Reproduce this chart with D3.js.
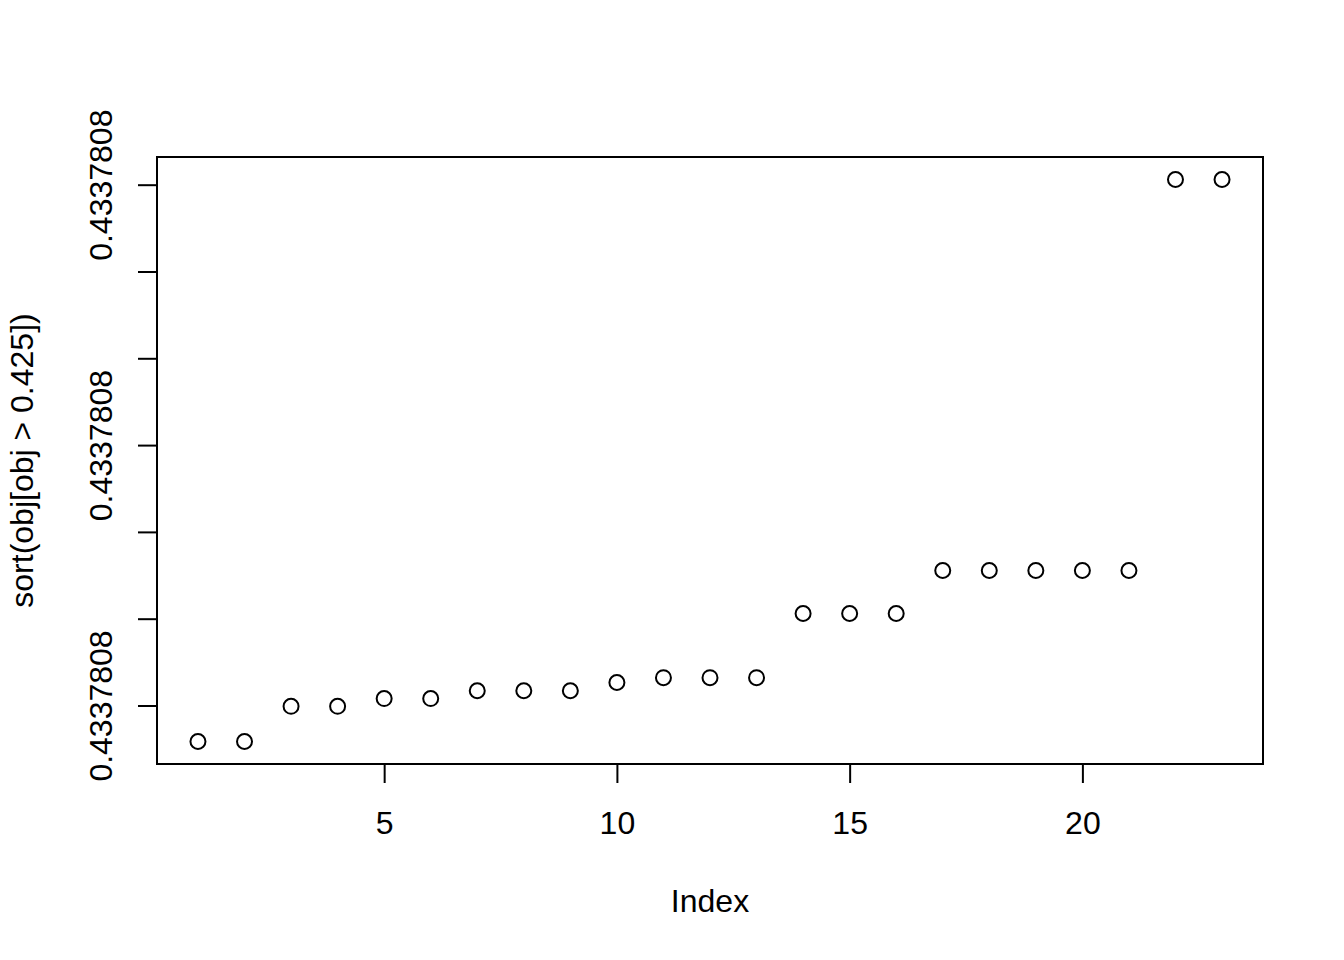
<!DOCTYPE html>
<html>
<head>
<meta charset="utf-8">
<script src="https://cdn.jsdelivr.net/npm/d3@7"></script>
<style>
  body { margin: 0; background: #fff; }
  text { font-family: "Liberation Sans", Arial, sans-serif; fill: #000; }
</style>
</head>
<body>
<script>
// index values 1..23
var index = [1,2,3,4,5,6,7,8,9,10,11,12,13,14,15,16,17,18,19,20,21,22,23];
// sorted values, as offsets from 0.4337808 in tick steps (differences are below print precision)
var values = [-0.415,-0.415,-0.01,-0.01,0.08,0.08,0.17,0.17,0.17,0.265,0.32,0.32,0.32,
              1.06,1.06,1.06,1.555,1.555,1.555,1.555,1.555,6.06,6.06];
var xTicks = [5,10,15,20];
var yTicks = [0,1,2,3,4,5,6];
var yTickLabels = ["0.4337808","","","0.4337808","","","0.4337808"];

var w = 1344, h = 960;
var pLeft = 157, pRight = 1263, pTop = 157, pBottom = 764;

var svg = d3.select("body")
            .append("svg")
            .attr("width", w)
            .attr("height", h);

// R style 4% range extension
function ext(e) {
    var d = (e[1] - e[0]) * 0.04;
    return [e[0] - d, e[1] + d];
}

var x = d3.scaleLinear().domain(ext(d3.extent(index))).range([pLeft, pRight]);
var y = d3.scaleLinear().domain(ext(d3.extent(values))).range([pBottom, pTop]);

// box
svg.append("rect")
   .attr("x", pLeft).attr("y", pTop)
   .attr("width", pRight - pLeft).attr("height", pBottom - pTop)
   .style("fill", "none").style("stroke", "#000").style("stroke-width", 2);

var xAxis = svg.append("g")
   .attr("transform", "translate(0," + pBottom + ")")
   .call(d3.axisBottom(x).tickValues(xTicks).tickSize(19).tickPadding(0).tickFormat(d3.format("d")));
xAxis.select(".domain").attr("d", "M" + x(xTicks[0]) + ",0H" + x(xTicks[xTicks.length - 1]));
xAxis.selectAll("line").style("stroke-width", 2);
xAxis.selectAll("path").style("stroke-width", 2);
xAxis.selectAll("text")
   .attr("y", 70).attr("dy", null)
   .style("font-size", "32px")
   .style("font-family", "Liberation Sans, Arial, sans-serif");

var yAxis = svg.append("g")
   .attr("transform", "translate(" + pLeft + ",0)")
   .call(d3.axisLeft(y).tickValues(yTicks).tickSize(19).tickFormat(function(d, i) { return yTickLabels[i]; }));
yAxis.select(".domain").attr("d", "M0," + y(yTicks[0]) + "V" + y(yTicks[yTicks.length - 1]));
yAxis.selectAll("line").style("stroke-width", 2);
yAxis.selectAll("path").style("stroke-width", 2);
yAxis.selectAll("text")
   .attr("x", null).attr("dy", null)
   .attr("text-anchor", "middle")
   .attr("transform", "translate(-45,0) rotate(-90)")
   .style("font-size", "32px")
   .style("font-family", "Liberation Sans, Arial, sans-serif");

// points
svg.selectAll("circle")
   .data(values)
   .enter()
   .append("circle")
   .attr("cx", function(d, i) { return x(index[i]); })
   .attr("cy", function(d) { return y(d); })
   .attr("r", 7.5)
   .style("fill", "none")
   .style("stroke", "#000")
   .style("stroke-width", 2);

svg.append("text")
   .attr("x", (pLeft + pRight) / 2).attr("y", 912)
   .attr("text-anchor", "middle")
   .style("font-size", "32px")
   .text("Index");

svg.append("text")
   .attr("transform", "translate(33," + (pTop + pBottom) / 2 + ") rotate(-90)")
   .attr("text-anchor", "middle")
   .style("font-size", "32px")
   .text("sort(obj[obj > 0.425])");
</script>
</body>
</html>
